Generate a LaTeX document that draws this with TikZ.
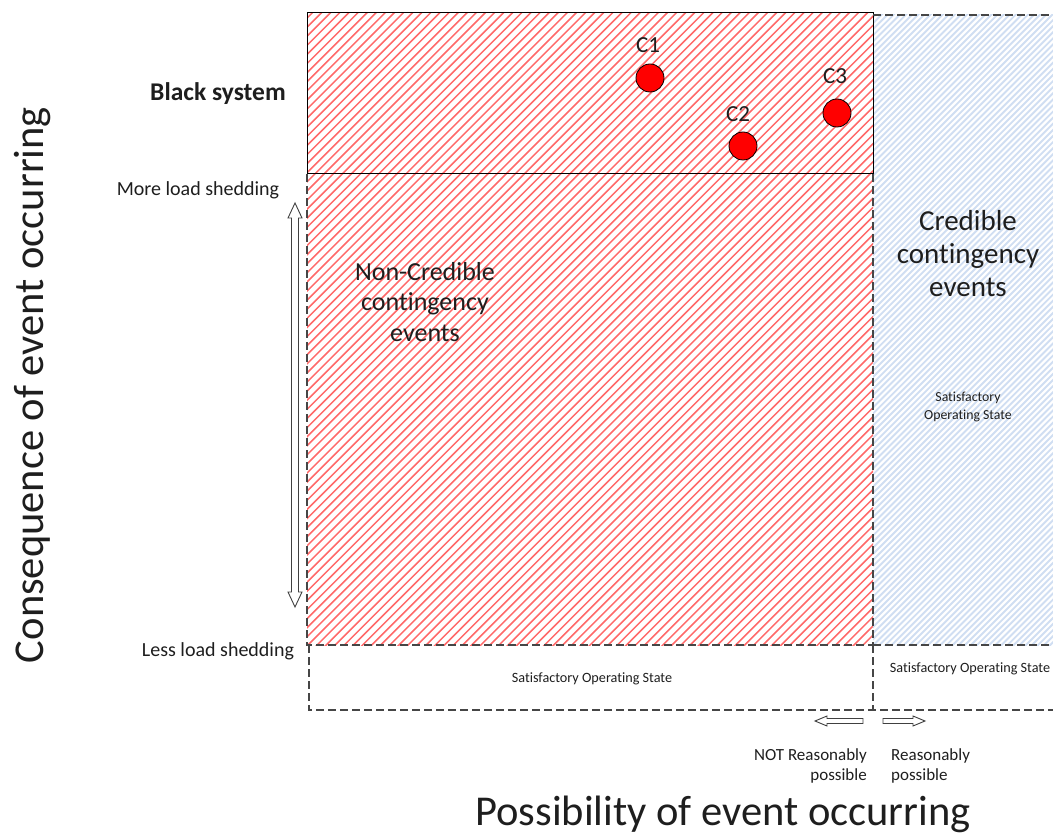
\documentclass[tikz,border=0pt]{standalone}
\usepackage{fontspec}
\setmainfont{Carlito}[Ligatures={NoCommon}]
\definecolor{hatchred}{RGB}{255,105,105}
\definecolor{hatchblue}{RGB}{208,222,242}
\definecolor{txt}{RGB}{30,30,30}
\definecolor{dashgray}{RGB}{70,70,70}
\tikzset{
  redline/.style={draw=hatchred,line width=1.5pt},
  blueline/.style={draw=hatchblue,line width=1.9pt},
  solidedge/.style={draw=black,line width=1pt},
  dashedge/.style={draw=dashgray,line width=1.2pt,dash pattern=on 8pt off 4pt},
  hollow/.style={draw=black!75,line width=0.9pt,fill=white,line join=miter},
  circ/.style={circle,draw=black,line width=0.8pt,fill=red,minimum size=28pt,inner sep=0pt},
  lbl/.style={text=txt,inner sep=0pt,align=center},
}
\begin{document}
\begin{tikzpicture}[x=1pt,y=-1pt]
\useasboundingbox (0,0) rectangle (1053,834);
% red hatching
\begin{scope}
\clip (307,13) rectangle (873,645);
\foreach \c in {316,325.1,...,1530} \draw[redline] (\c-660,660) -- (\c,0);
\end{scope}
% blue hatching
\begin{scope}
\clip (873,15) rectangle (1053,645);
\foreach \c in {884,890.1,...,1710} \draw[blueline] (\c-660,660) -- (\c,0);
\end{scope}
% coordinates of the frame
\coordinate (tl) at (307,13);
\coordinate (tr) at (873,174);
\coordinate (ml) at (307,174);
\coordinate (mr) at (873,174);
\coordinate (bl) at (307,645);
\coordinate (br) at (873,645);
\coordinate (bl2) at (309,645);
\coordinate (bbl) at (309,710);
\coordinate (bbm) at (873,710);
\coordinate (bbr) at (1053,710);
\coordinate (btr) at (1053,645);
\coordinate (ttm) at (873,15);
\coordinate (ttr) at (1053,15);
% black system box
\draw[solidedge] (tl) rectangle (tr);
% lower red box edges
\draw[dashedge] (ml) -- (bl) -- (br);
\draw[dashedge] (mr) -- (br);
% bottom band
\draw[dashedge] (bl2) -- (bbl) -- (bbr);
\draw[dashedge] (br) -- (bbm);
\draw[dashedge] (br) -- (btr);
\draw[dashedge] (ttm) -- (ttr);
% contingency points
\node[circ] (c1) at (650,78) {};
\node[circ] (c2) at (743,146) {};
\node[circ] (c3) at (837,113) {};
\node[lbl,font=\fontsize{23}{26}\selectfont] (c1l) at (648,45) {C1};
\node[lbl,font=\fontsize{23}{26}\selectfont] (c2l) at (738,114) {C2};
\node[lbl,font=\fontsize{23}{26}\selectfont] (c3l) at (835,76) {C3};
% region texts
\node[lbl,font=\fontsize{26}{30.5}\selectfont] (noncred) at (425,302) {Non-Credible\\contingency\\events};
\node[lbl,font=\fontsize{29}{33}\selectfont] (cred) at (968,254) {Credible\\contingency\\events};
\node[lbl,font=\fontsize{13.8}{18}\selectfont] (sat1) at (968,407) {Satisfactory\\Operating State};
\node[lbl,font=\fontsize{14.2}{16}\selectfont] (sat2) at (592,679) {Satisfactory Operating State};
\node[lbl,font=\fontsize{14.2}{16}\selectfont] (sat3) at (970,669) {Satisfactory Operating State};
% left labels
\node[lbl,font=\bfseries\fontsize{25.5}{30}\selectfont] (black) at (218,94) {Black system};
\node[lbl,font=\fontsize{20}{23}\selectfont] (more) at (198,190) {More load shedding};
\node[lbl,font=\fontsize{20}{23}\selectfont] (less) at (218,651) {Less load shedding};
% double arrow
\coordinate (dat) at (295,203);
\coordinate (dab) at (295,607);
\draw[hollow] (295,203) -- (302,218) -- (298.5,218) -- (298.5,592) -- (302,592) -- (295,607)
  -- (288,592) -- (291.5,592) -- (291.5,218) -- (288,218) -- cycle;
% small arrows
\draw[hollow] (815,721) -- (827,716) -- (827,718.5) -- (863,718.5) -- (863,723.5) -- (827,723.5) -- (827,726) -- cycle;
\draw[hollow] (925,721) -- (913,716) -- (913,718.5) -- (883,718.5) -- (883,723.5) -- (913,723.5) -- (913,726) -- cycle;
\node[lbl,align=right,anchor=east,font=\fontsize{17}{20}\selectfont] (notr) at (867,766) {NOT Reasonably\\possible};
\node[lbl,align=left,anchor=west,font=\fontsize{17}{20}\selectfont] (reas) at (891,766) {Reasonably\\possible};
% axis titles
\node[lbl,anchor=base,font=\fontsize{42.5}{50}\selectfont] (xaxis) at (723,825) {Possibility of event occurring};
\node[lbl,rotate=90,font=\fontsize{42.5}{50}\selectfont] (yaxis) at (33,385) {Consequence of event occurring};
\end{tikzpicture}
\end{document}
